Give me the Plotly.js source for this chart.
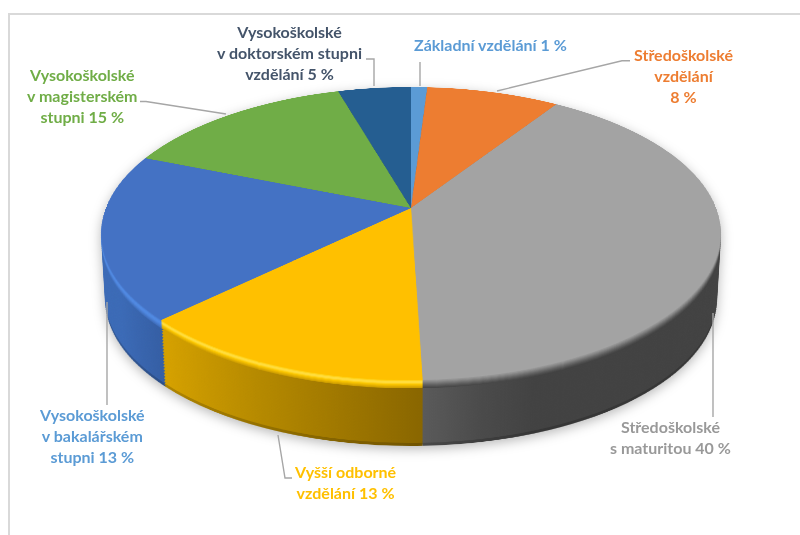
<!DOCTYPE html>
<html>
<head>
<meta charset="utf-8">
<script src="https://cdn.plot.ly/plotly-3.0.1.min.js"></script>
<style>
html,body{margin:0;padding:0;background:#fff;overflow:hidden}
#stage{position:relative;width:800px;height:535px;overflow:hidden}
.layer{position:absolute;left:0;top:0;width:800px;height:800px;transform-origin:0 0}
#walls{position:absolute;left:0;top:0;width:800px;height:535px;filter:drop-shadow(0 3px 6px rgba(0,0,0,.28))}
#labels{position:absolute;left:0;top:0;width:800px;height:535px}
</style>
</head>
<body>
<div id="stage">
  <svg width="0" height="0" style="position:absolute"><defs id="gradDefs"></defs></svg>
  <div id="walls"></div>
  <div id="top" class="layer"></div>
  <div id="labels"></div>
</div>
<script>
var categories = ["Základní vzdělání","Středoškolské vzdělání","Středoškolské s maturitou","Vyšší odborné vzdělání","Vysokoškolské v bakalářském stupni","Vysokoškolské v magisterském stupni","Vysokoškolské v doktorském stupni vzdělání"];
var values = [1, 8.2, 40.3, 13.3, 18.3, 14.4, 4.5];
var topColors = ["#5B9BD5","#ED7D31","#A3A3A3","#FFC000","#4472C4","#70AD47","#255E91"];
var labelTexts = ["Základní vzdělání 1 %","Středoškolské<br>vzdělání<br>8 %","Středoškolské<br>s maturitou 40 %","Vyšší odborné<br>vzdělání 13 %","Vysokoškolské<br>v bakalářském<br>stupni 13 %","Vysokoškolské<br>v magisterském<br>stupni 15 %","Vysokoškolské<br>v doktorském stupni<br>vzdělání 5 %"];
var labelColors = ["#5B9BD5","#ED7D31","#999999","#FFC000","#5B9BD5","#70AD47","#44546A"];
var labelX = [490,683,670,345,92,82,289];
var labelY = [44.5,75.5,436.5,481.5,435.5,95.5,52.5];
var leaders = ["M420,62L420,86","M497,91L622,60.7L630,60.7","M713,313L713,417","M278,435L285,478L292,478","M107,302L107,405","M226,114L146,101.5L140,101.5","M374,86L374,59L366,59"];

var S = 800, C = 400;
var apexX = 411, apexY = 208, R = 305, a = 142, c = -0.174;
function mat(){
  return 'matrix3d('+[R/C,0,0,0, apexX*c/C,(apexY*c+a)/C,0,c/C, 0,0,1,0,
    apexX*(1-c)-R, apexY*(1-c)-a, 0, 1-c].join(',')+')';
}
function pieTrace(colors){
  return {type:'pie',values:values,labels:categories,sort:false,direction:'clockwise',rotation:0,
    textinfo:'none',hoverinfo:'skip',showlegend:false,domain:{x:[0,1],y:[0,1]},
    marker:{colors:colors,line:{width:0}}};
}
var pieLayout = {width:S,height:S,margin:{l:0,r:0,t:0,b:0},paper_bgcolor:'rgba(0,0,0,0)',plot_bgcolor:'rgba(0,0,0,0)',showlegend:false};
var cfg = {staticPlot:true,displayModeBar:false};

// wall colours: stops given as [screen x, colour]
var wallStops = {
  2:[[423,'#5a5a5a'],[480,'#4a4a4a'],[530,'#424242'],[720,'#424242']],
  3:[[165,'#d4a000'],[260,'#b68a00'],[340,'#a07800'],[423,'#896600']],
  4:[[105,'#3b6ab6'],[165,'#345da2']]
};
var rimColors = {2:['#9c9c9c','#939393','#888888','#7c7c7c','#707070','#646464','#5a5a5a','#505050','#484848'],
                 3:['#ffc400','#ffd21c','#ffdc3c','#ffdc3c','#ffd21c','#f8c400','#ecb800','#deaa00','#cf9f00'],
                 4:['#4678cc','#4b80d6','#4f88e0','#5089e2','#4f88e0','#4c82d8','#487cd0','#4374c4','#3f6ebc']};
var wallBase = {0:'#3f6f9f',1:'#a85a20',5:'#4f7a32',6:'#1a4368'};

var wallHost = document.createElement('div');
wallHost.className='layer';
document.getElementById('walls').appendChild(wallHost);

Plotly.newPlot(wallHost,[pieTrace(topColors)],pieLayout,cfg).then(function(){
  var paths = wallHost.querySelectorAll('path.surface');
  var centred = paths[2].getBBox().x < 200;
  var off = centred ? 0 : C;
  function px(X){ return off + (X-apexX)*0.87/R*C; }
  var defs = document.getElementById('gradDefs'), ns='http://www.w3.org/2000/svg';
  Object.keys(wallStops).forEach(function(k){
    var st = wallStops[k], g = document.createElementNS(ns,'linearGradient');
    g.setAttribute('id','wg'+k);
    g.setAttribute('gradientUnits','userSpaceOnUse');
    var x0=st[0][0], x1=st[st.length-1][0];
    g.setAttribute('x1',px(x0)); g.setAttribute('x2',px(x1)); g.setAttribute('y1',0); g.setAttribute('y2',0);
    st.forEach(function(s){
      var e=document.createElementNS(ns,'stop');
      e.setAttribute('offset',(s[0]-x0)/(x1-x0)); e.setAttribute('stop-color',s[1]); g.appendChild(e);
    });
    defs.appendChild(g);
  });
  var depth = 66, offsets = [];
  for (var t=depth; t>9; t-=1.5) offsets.push(t);
  for (var r=8; r>=0; r--) offsets.push(r+0.5);
  var host = document.getElementById('walls');
  offsets.forEach(function(t,i){
    var cl = wallHost.cloneNode(true);
    var s = 1 - 0.013*t/depth;
    cl.style.transform = 'translate('+apexX+'px,'+t+'px) scaleX('+s+') translate('+(-apexX)+'px,0) '+mat();
    if (i<2) cl.style.filter='brightness(.82)';
    var ps = cl.querySelectorAll('path.surface');
    for (var j=0;j<ps.length;j++){
      var f;
      if (t<9 && rimColors[j]) f = rimColors[j][Math.floor(t)];
      else if (wallStops[j]) f = 'url(#wg'+j+')';
      else f = wallBase[j];
      ps[j].style.fill = f;
    }
    host.appendChild(cl);
  });
  wallHost.style.display='none';
});

var topDiv = document.getElementById('top');
topDiv.style.transform = mat();
Plotly.newPlot(topDiv,[pieTrace(topColors)],pieLayout,cfg);

var annotations = labelTexts.map(function(t,i){
  return {x:labelX[i],y:labelY[i],xref:'x',yref:'y',text:'<b>'+t+'</b>',showarrow:false,align:'center',
    xanchor:'center',yanchor:'middle',font:{family:'Lato, sans-serif',size:16,color:labelColors[i]}};
});
var shapes = leaders.map(function(p){
  return {type:'path',path:p,xref:'x',yref:'y',line:{color:'#a6a6a6',width:1.4}};
});
shapes.push({type:'path',path:'M9,535L9,14L800,14',xref:'x',yref:'y',line:{color:'#d9d9d9',width:2}});
Plotly.newPlot('labels',[],{width:800,height:535,margin:{l:0,r:0,t:0,b:0},paper_bgcolor:'rgba(0,0,0,0)',plot_bgcolor:'rgba(0,0,0,0)',
  xaxis:{range:[0,800],visible:false,fixedrange:true},yaxis:{range:[535,0],visible:false,fixedrange:true},
  annotations:annotations,shapes:shapes,showlegend:false},cfg);
</script>
</body>
</html>
